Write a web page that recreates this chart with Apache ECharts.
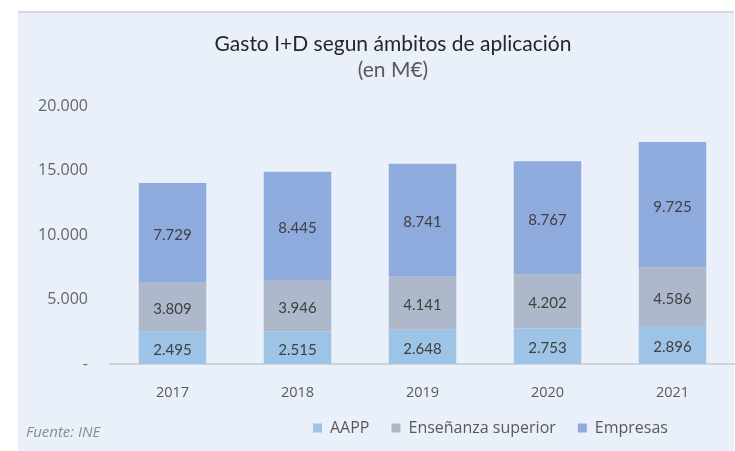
<!DOCTYPE html>
<html>
<head>
<meta charset="utf-8">
<style>
  html, body { margin: 0; padding: 0; background: #ffffff; }
  #chart { width: 735px; height: 451px; }
</style>
<script src="https://cdn.jsdelivr.net/npm/echarts@6/dist/echarts.min.js"></script>
</head>
<body>
<div id="chart"></div>
<script>
// Gasto I+D por ámbito de aplicación, millones de euros
const years = ['2017', '2018', '2019', '2020', '2021'];
const aapp = [2495, 2515, 2648, 2753, 2896];
const ensenanza = [3809, 3946, 4141, 4202, 4586];
const empresas = [7729, 8445, 8741, 8767, 9725];
const yTicks = [0, 5000, 10000, 15000, 20000];

const seriesNames = ['AAPP', 'Enseñanza superior', 'Empresas'];
const seriesColors = ['#9dc3e6', '#adb9ca', '#8faadc'];
const seriesData = [aapp, ensenanza, empresas];

const TITLE_FONT = 'Lato, "Open Sans", sans-serif';
const FONT = '"Open Sans", Lato, sans-serif';

// Spanish thousands separator; zero shown as a dash
function fmt(v) {
  if (v === 0) return '-';
  return String(v).replace(/\B(?=(\d{3})+(?!\d))/g, '.');
}

const chart = echarts.init(document.getElementById('chart'), null, { renderer: 'canvas' });

chart.setOption({
  backgroundColor: '#ffffff',
  animation: false,
  textStyle: { fontFamily: FONT },
  graphic: [
    { type: 'rect', z: -10, shape: { x: 18, y: 11, width: 716, height: 440 },
      style: { fill: '#e9f0f9' } },
    { type: 'rect', z: -9, shape: { x: 18, y: 11, width: 716, height: 2 },
      style: { fill: '#d4d7db' } },
    { type: 'text', x: 393, y: 44,
      style: { text: 'Gasto I+D segun ámbitos de aplicación', fill: '#262626',
               fontSize: 21, fontFamily: TITLE_FONT,
               textAlign: 'center', textVerticalAlign: 'middle' } },
    { type: 'text', x: 393, y: 70,
      style: { text: '(en M€)', fill: '#595959',
               fontSize: 21, fontFamily: TITLE_FONT,
               textAlign: 'center', textVerticalAlign: 'middle' } },
    { type: 'text', x: 26, y: 433,
      style: { text: 'Fuente: INE', fill: '#8c8c8c', fontSize: 15,
               fontStyle: 'italic', fontFamily: FONT, textVerticalAlign: 'middle' } }
  ],
  legend: {
    data: seriesNames,
    left: 308,
    top: 415,
    itemWidth: 9,
    itemHeight: 9,
    itemGap: 22,
    icon: 'rect',
    textStyle: { fontSize: 16, color: '#595959', fontFamily: FONT, padding: [0, 0, 0, 3] }
  },
  grid: { left: 110, right: -2, top: 106, bottom: 87 },
  xAxis: {
    type: 'category',
    data: years,
    axisLine: { show: true, lineStyle: { color: '#d0d3d8', width: 2 } },
    axisTick: { show: false },
    axisLabel: { color: '#595959', fontSize: 14.5, margin: 21, fontFamily: FONT }
  },
  yAxis: {
    type: 'value',
    min: yTicks[0],
    max: yTicks[yTicks.length - 1],
    interval: 5000,
    splitLine: { show: false },
    axisLine: { show: false },
    axisTick: { show: false },
    axisLabel: { color: '#666666', fontSize: 16, margin: 22, fontFamily: FONT,
                 formatter: fmt }
  },
  series: seriesNames.map((name, i) => ({
    name: name,
    type: 'bar',
    stack: 'total',
    barWidth: '54%',
    data: seriesData[i],
    itemStyle: { color: seriesColors[i] },
    label: {
      show: true,
      position: 'inside',
      color: '#404040',
      fontSize: 15,
      fontFamily: TITLE_FONT,
      offset: [0, 2],
      formatter: p => fmt(p.value)
    }
  }))
});
</script>
</body>
</html>
